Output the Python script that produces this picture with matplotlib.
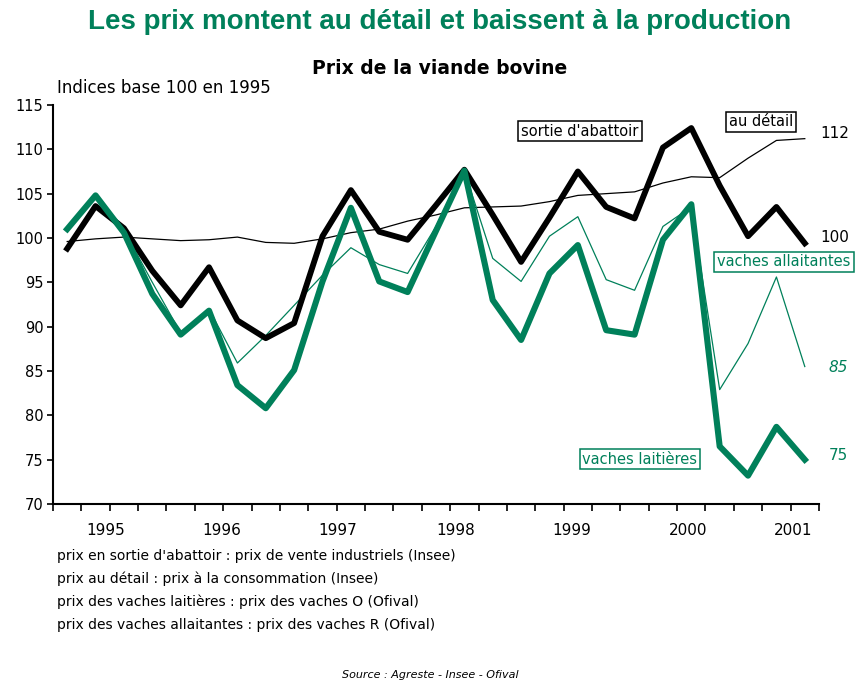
#!/usr/bin/env python3

import matplotlib.pyplot as plt

# quarterly points, 27 of them (1994 T3 -> 2001 T1)
abattoir = [98.8, 103.6, 101.1, 96.3, 92.4, 96.7, 90.7, 88.7, 90.4, 100.2, 105.4,
            100.7, 99.8, 103.7, 107.7, 102.6, 97.3, 102.3, 107.5, 103.5, 102.2,
            110.2, 112.4, 105.9, 100.2, 103.5, 99.4]
detail = [99.6, 99.9, 100.1, 99.9, 99.7, 99.8, 100.1, 99.5, 99.4, 99.9, 100.6,
          101.0, 101.9, 102.6, 103.4, 103.5, 103.6, 104.1, 104.8, 105.0, 105.2,
          106.2, 106.9, 106.8, 109.0, 111.0, 111.2]
allaitantes = [101.0, 104.6, 100.9, 95.0, 89.3, 92.0, 85.9, 89.0, 92.4, 95.8, 98.9,
               97.0, 96.0, 101.3, 107.6, 97.7, 95.1, 100.2, 102.4, 95.3, 94.1,
               101.3, 103.5, 82.9, 88.1, 95.6, 85.5]
laitieres = [101.0, 104.8, 100.6, 93.7, 89.1, 91.8, 83.4, 80.8, 85.1, 95.1, 103.4,
             95.1, 93.9, 100.8, 107.6, 93.0, 88.5, 96.0, 99.2, 89.6, 89.1,
             99.8, 103.8, 76.5, 73.2, 78.7, 75.0]

years = ["1995", "1996", "1997", "1998", "1999", "2000", "2001"]
year_pos = [1.35, 5.45, 9.55, 13.7, 17.8, 21.9, 25.6]

notes = ["prix en sortie d'abattoir : prix de vente industriels (Insee)",
         "prix au détail : prix à la consommation (Insee)",
         "prix des vaches laitières : prix des vaches O (Ofival)",
         "prix des vaches allaitantes : prix des vaches R (Ofival)"]

green = "#00805a"
W, H = 866, 686
x = range(len(abattoir))


def px(xp, yp):
    # pixel position (from top-left) -> figure fraction
    return xp / W, 1 - yp / H


fig = plt.figure(figsize=(8.66, 6.86), dpi=100)
ax = fig.add_axes([0.0612, 0.2653, 0.8845, 0.5817])

ax.plot(x, detail, color="black", lw=0.9, zorder=2)
ax.plot(x, allaitantes, color=green, lw=0.9, zorder=3)
ax.plot(x, abattoir, color="black", lw=4.2, solid_joinstyle="round", zorder=4)
ax.plot(x, laitieres, color=green, lw=4.4, solid_joinstyle="round", zorder=5)

ax.set_xlim(-0.5, 26.5)
ax.set_ylim(70, 115)
ax.set_yticks(range(70, 116, 5))
ax.tick_params(axis="y", direction="out", length=4, width=1.2, labelsize=10.5, pad=3)
ax.set_xticks([i - 0.5 for i in range(28)])
ax.set_xticklabels([])
ax.tick_params(axis="x", which="major", direction="out", length=5, width=1.2)
ax.set_xticks(year_pos, minor=True)
ax.set_xticklabels(years, minor=True, fontsize=11)
ax.tick_params(axis="x", which="minor", length=0, pad=14)
for s in ["top", "right"]:
    ax.spines[s].set_visible(False)
for s in ["left", "bottom"]:
    ax.spines[s].set_linewidth(1.5)

# box labels
box_k = dict(boxstyle="square,pad=0.2", fc="white", ec="black", lw=1.1)
box_g = dict(boxstyle="square,pad=0.2", fc="white", ec=green, lw=1.1)
fig.text(*px(580, 131), "sortie d'abattoir", fontsize=10.5, ha="center", va="center",
         bbox=box_k, zorder=6)
fig.text(*px(761, 122), "au détail", fontsize=10.5, ha="center", va="center",
         bbox=box_k, zorder=6)
fig.text(*px(784, 262), "vaches allaitantes", fontsize=10.5, ha="center", va="center",
         color=green, bbox=box_g, zorder=6)
fig.text(*px(640, 459), "vaches laitières", fontsize=10.5, ha="center", va="center",
         color=green, bbox=box_g, zorder=6)

fig.text(*px(835, 133), "112", fontsize=11, ha="center", va="center")
fig.text(*px(835, 238), "100", fontsize=11, ha="center", va="center")
fig.text(*px(838, 368), "85", fontsize=11, ha="center", va="center",
         color=green, style="italic")
fig.text(*px(838, 455), "75", fontsize=11, ha="center", va="center", color=green)

fig.text(*px(440, 22), "Les prix montent au détail et baissent à la production",
         fontsize=20, fontweight="bold", color=green, family="Liberation Sans",
         ha="center", va="center")
fig.text(*px(440, 68), "Prix de la viande bovine", fontsize=13.5, fontweight="bold",
         ha="center", va="center")
fig.text(*px(57, 88), "Indices base 100 en 1995", fontsize=12, ha="left", va="center")

for k, line in enumerate(notes):
    fig.text(*px(57, 556 + 23 * k), line, fontsize=10, ha="left", va="center")
fig.text(*px(430, 675), "Source : Agreste - Insee - Ofival", fontsize=8,
         style="italic", ha="center", va="center")

plt.savefig("out.png", dpi=100)
plt.close()
